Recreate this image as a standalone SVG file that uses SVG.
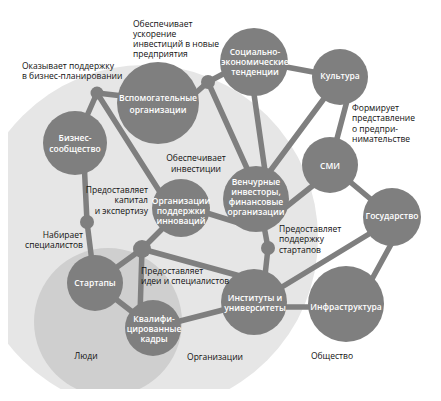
<svg xmlns="http://www.w3.org/2000/svg" width="441" height="401" viewBox="0 0 441 401">
<style>
.n{fill:#7f7f7f}
.c{stroke:#7f7f7f;stroke-width:5.5;fill:none;stroke-linecap:round}
.t{font-family:"Open Sans","Noto Sans","DejaVu Sans",sans-serif;font-size:8.5px;font-weight:600;fill:#ffffff;text-anchor:middle}
.l{font-family:"Open Sans","Noto Sans","DejaVu Sans",sans-serif;font-size:8.5px;fill:#111111}
.m{text-anchor:middle}
.r{text-anchor:end}
</style>
<defs>
<clipPath id="clip"><rect x="8" y="0" width="433" height="389"/></clipPath>
</defs>
<rect width="441" height="401" fill="#ffffff"/>
<g id="areas" clip-path="url(#clip)">
<circle cx="145" cy="238" r="173" fill="#e6e6e6"/>
<circle cx="108" cy="322" r="74" fill="#cfcfcf"/>
</g>
<g id="connectors">
<line class="c" x1="97" y1="93" x2="75" y2="143"/>
<line class="c" x1="97" y1="93" x2="158" y2="100"/>
<line class="c" x1="97" y1="93" x2="165" y2="200"/>
<line class="c" x1="84" y1="160" x2="87" y2="222"/>
<line class="c" x1="87" y1="222" x2="93" y2="270"/>
<line class="c" x1="190" y1="98" x2="208" y2="82"/>
<line class="c" x1="208" y1="82" x2="240" y2="65"/>
<line class="c" x1="208" y1="82" x2="250" y2="175"/>
<line class="c" x1="254" y1="61" x2="340" y2="77"/>
<line class="c" x1="252" y1="80" x2="266" y2="178"/>
<line class="c" x1="340" y1="77" x2="265" y2="178"/>
<line class="c" x1="352" y1="82" x2="330" y2="165"/>
<line class="c" x1="335" y1="168" x2="262" y2="226"/>
<line class="c" x1="330" y1="165" x2="392" y2="217"/>
<line class="c" x1="392" y1="220" x2="254" y2="304"/>
<line class="c" x1="400" y1="228" x2="366" y2="290"/>
<line class="c" x1="254" y1="307" x2="346" y2="307"/>
<line class="c" x1="262" y1="215" x2="268" y2="248"/>
<line class="c" x1="268" y1="248" x2="264" y2="285"/>
<line class="c" x1="181" y1="205" x2="255" y2="228"/>
<line class="c" x1="181" y1="210" x2="142" y2="249"/>
<line class="c" x1="142" y1="249" x2="95" y2="283"/>
<line class="c" x1="142" y1="249" x2="140" y2="315"/>
<line class="c" x1="142" y1="249" x2="240" y2="276"/>
<line class="c" x1="95" y1="283" x2="153" y2="328"/>
<line class="c" x1="153" y1="328" x2="254" y2="302"/>
<circle class="n" cx="97" cy="93" r="6.5"/>
<circle class="n" cx="208" cy="82" r="7"/>
<circle class="n" cx="87" cy="222" r="7"/>
<circle class="n" cx="142" cy="249" r="9"/>
<circle class="n" cx="268" cy="248" r="7"/>
</g>
<g id="n-vspom"><circle class="n" cx="158" cy="103" r="41"/><text class="t" x="158" y="101">Вспомогательные</text><text class="t" x="158" y="113">организации</text></g>
<g id="n-biznes"><circle class="n" cx="75" cy="143" r="32"/><text class="t" x="75" y="141">Бизнес-</text><text class="t" x="75" y="152">сообщество</text></g>
<g id="n-soc"><circle class="n" cx="254" cy="62" r="34"/><text class="t" x="255" y="55">Социально-</text><text class="t" x="255" y="65">экономические</text><text class="t" x="255" y="75">тенденции</text></g>
<g id="n-kult"><circle class="n" cx="340" cy="77" r="28"/><text class="t" x="340" y="79">Культура</text></g>
<g id="n-smi"><circle class="n" cx="330" cy="165" r="28"/><text class="t" x="330" y="169">СМИ</text></g>
<g id="n-gos"><circle class="n" cx="392" cy="217" r="29"/><text class="t" x="392" y="219">Государство</text></g>
<g id="n-vench"><circle class="n" cx="256" cy="199" r="33"/><text class="t" x="256" y="185">Венчурные</text><text class="t" x="256" y="195">инвесторы,</text><text class="t" x="256" y="205">финансовые</text><text class="t" x="256" y="215">организации</text></g>
<g id="n-opi"><circle class="n" cx="181" cy="208" r="29"/><text class="t" x="181" y="204">Организации</text><text class="t" x="181" y="214">поддержки</text><text class="t" x="181" y="224">инноваций</text></g>
<g id="n-inst"><circle class="n" cx="254" cy="302" r="33"/><text class="t" x="255" y="301">Институты и</text><text class="t" x="255" y="311">университеты</text></g>
<g id="n-infra"><circle class="n" cx="346" cy="304" r="38"/><text class="t" x="346" y="310">Инфраструктура</text></g>
<g id="n-start"><circle class="n" cx="95" cy="283" r="28"/><text class="t" x="95" y="286">Стартапы</text></g>
<g id="n-kadry"><circle class="n" cx="153" cy="328" r="28"/><text class="t" x="154" y="322">Квалифи-</text><text class="t" x="154" y="332">цированные</text><text class="t" x="154" y="342">кадры</text></g>
<g id="labels">
<text class="l" x="133" y="27">Обеспечивает</text>
<text class="l" x="133" y="37">ускорение</text>
<text class="l" x="133" y="47">инвестиций в новые</text>
<text class="l" x="133" y="57">предприятия</text>
<text class="l" x="22" y="69">Оказывает поддержку</text>
<text class="l" x="22" y="79">в бизнес-планировании</text>
<text class="l m" x="196" y="161">Обеспечивает</text>
<text class="l m" x="196" y="172">инвестиции</text>
<text class="l r" x="148" y="193">Предоставляет</text>
<text class="l r" x="148" y="203">капитал</text>
<text class="l r" x="148" y="214">и экспертизу</text>
<text class="l r" x="83" y="238">Набирает</text>
<text class="l r" x="83" y="248">специалистов</text>
<text class="l" x="141" y="274">Предоставляет</text>
<text class="l" x="141" y="284">идеи и специалистов</text>
<text class="l" x="279" y="232">Предоставляет</text>
<text class="l" x="279" y="242">поддержку</text>
<text class="l" x="279" y="253">стартапов</text>
<text class="l" x="352" y="111">Формирует</text>
<text class="l" x="352" y="121">представление</text>
<text class="l" x="352" y="132">о предпри-</text>
<text class="l" x="352" y="142">нимательстве</text>
<text class="l m" x="86" y="359">Люди</text>
<text class="l m" x="215" y="360">Организации</text>
<text class="l m" x="332" y="359">Общество</text>
</g>
</svg>
